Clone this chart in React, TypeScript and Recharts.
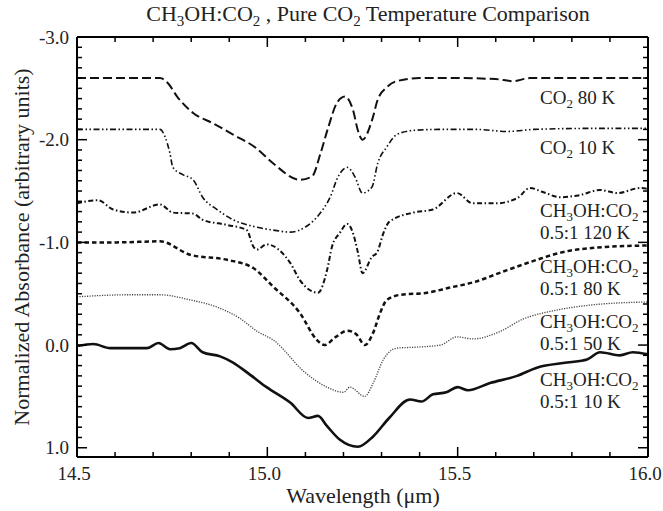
import { LineChart, Line, XAxis, YAxis } from 'recharts';

// wavelength (µm) / normalized absorbance, one pair of arrays per spectrum
const co2_80K_wl = [14.5, 14.6, 14.718, 14.739, 14.763, 14.805, 14.857, 14.91, 14.97, 15.015, 15.086, 15.117, 15.14, 15.16, 15.183, 15.204, 15.225, 15.238, 15.25, 15.275, 15.29, 15.314, 15.34, 15.4, 15.5, 15.6, 15.645, 15.69, 15.8, 16.0];
const co2_80K_abs = [-2.6, -2.6, -2.6, -2.55, -2.42, -2.26, -2.16, -2.05, -1.92, -1.77, -1.61, -1.64, -1.87, -2.12, -2.36, -2.42, -2.29, -2.09, -2.0, -2.19, -2.39, -2.51, -2.57, -2.6, -2.6, -2.59, -2.57, -2.6, -2.6, -2.6];

const co2_10K_wl = [14.5, 14.6, 14.718, 14.731, 14.744, 14.752, 14.778, 14.805, 14.83, 14.868, 14.91, 14.97, 15.015, 15.06, 15.1, 15.14, 15.165, 15.186, 15.21, 15.23, 15.25, 15.275, 15.29, 15.314, 15.34, 15.383, 15.45, 15.55, 15.63, 15.7, 15.85, 16.0];
const co2_10K_abs = [-2.1, -2.1, -2.1, -2.03, -1.87, -1.73, -1.66, -1.61, -1.44, -1.32, -1.22, -1.15, -1.12, -1.1, -1.15, -1.29, -1.44, -1.64, -1.73, -1.64, -1.48, -1.54, -1.77, -1.93, -2.05, -2.09, -2.1, -2.1, -2.08, -2.1, -2.11, -2.11];

const mix120K_wl = [14.5, 14.555, 14.595, 14.647, 14.718, 14.752, 14.805, 14.83, 14.894, 14.946, 14.963, 14.973, 14.998, 15.06, 15.086, 15.133, 15.157, 15.17, 15.19, 15.21, 15.225, 15.238, 15.25, 15.275, 15.288, 15.305, 15.32, 15.383, 15.435, 15.498, 15.54, 15.6, 15.656, 15.69, 15.724, 15.77, 15.82, 15.874, 15.92, 15.98, 16.0];
const mix120K_abs = [-1.38, -1.41, -1.32, -1.29, -1.37, -1.29, -1.28, -1.22, -1.17, -1.12, -0.96, -0.93, -0.98, -0.8, -0.63, -0.51, -0.73, -0.96, -1.09, -1.18, -1.09, -0.9, -0.7, -0.86, -0.9, -1.09, -1.2, -1.29, -1.32, -1.48, -1.38, -1.38, -1.43, -1.53, -1.49, -1.44, -1.46, -1.51, -1.48, -1.53, -1.52];

const mix80K_wl = [14.5, 14.6, 14.718, 14.797, 14.894, 14.963, 15.015, 15.086, 15.13, 15.15, 15.18, 15.21, 15.235, 15.256, 15.278, 15.296, 15.314, 15.35, 15.42, 15.48, 15.54, 15.63, 15.708, 15.77, 15.866, 16.0];
const mix80K_abs = [-1.0, -1.0, -1.01, -0.88, -0.83, -0.75, -0.57, -0.31, -0.05, 0.0, -0.08, -0.14, -0.1, 0.0, -0.12, -0.31, -0.44, -0.49, -0.51, -0.56, -0.61, -0.73, -0.83, -0.9, -0.95, -0.97];

const mix50K_wl = [14.5, 14.64, 14.718, 14.797, 14.868, 14.928, 14.975, 15.015, 15.1, 15.157, 15.2, 15.217, 15.256, 15.278, 15.305, 15.34, 15.393, 15.455, 15.498, 15.54, 15.61, 15.67, 15.76, 15.85, 16.0];
const mix50K_abs = [-0.47, -0.49, -0.49, -0.44, -0.37, -0.26, -0.13, -0.05, 0.27, 0.41, 0.46, 0.41, 0.5, 0.37, 0.14, 0.03, 0.02, 0.0, -0.08, -0.06, -0.13, -0.25, -0.34, -0.39, -0.42];

const mix10K_wl = [14.5, 14.543, 14.587, 14.684, 14.714, 14.744, 14.77, 14.8, 14.83, 14.876, 14.91, 14.955, 14.998, 15.06, 15.107, 15.133, 15.157, 15.19, 15.238, 15.278, 15.32, 15.375, 15.405, 15.435, 15.47, 15.5, 15.527, 15.585, 15.656, 15.708, 15.787, 15.84, 15.874, 15.926, 15.96, 16.0];
const mix10K_abs = [0.01, -0.01, 0.03, 0.03, -0.02, 0.04, 0.03, -0.02, 0.07, 0.11, 0.17, 0.29, 0.41, 0.56, 0.71, 0.69, 0.79, 0.92, 0.99, 0.89, 0.71, 0.53, 0.55, 0.48, 0.46, 0.41, 0.44, 0.37, 0.3, 0.22, 0.17, 0.14, 0.07, 0.1, 0.07, 0.09];

const xMajorTicks = [14.5, 15.0, 15.5, 16.0];
const yMajorTicks = [-3.0, -2.0, -1.0, 0.0, 1.0];

// minor ticks every 0.1
const xTicks = Array.from({ length: 16 }, (_, i) => +(14.5 + i * 0.1).toFixed(1));
const yTicks = Array.from({ length: 41 }, (_, i) => +(-3.0 + i * 0.1).toFixed(1));

const toPoints = (wl: number[], abs: number[]) => wl.map((w, i) => ({ wl: w, abs: abs[i] }));

const FONT = 'Liberation Serif, Tinos, DejaVu Serif, serif';
const TEXT = '#222';
const txt = { fontFamily: FONT };

const isMajor = (v: number, majors: number[]) => majors.some((m) => Math.abs(m - v) < 1e-6);

const BottomTick = ({ x, y, payload }: any) => {
  const major = isMajor(payload.value, xMajorTicks);
  return (
    <g>
      <line x1={x} x2={x} y1={y} y2={y - (major ? 10 : 5)} stroke="#000" strokeWidth={1.5} />
      {major && (
        <text x={x - 3} y={y + 23} textAnchor="middle" fontSize={19} style={txt} fill={TEXT}>
          {payload.value.toFixed(1)}
        </text>
      )}
    </g>
  );
};

const TopTick = ({ x, y, payload }: any) => {
  const major = isMajor(payload.value, xMajorTicks);
  return <line x1={x} x2={x} y1={y} y2={y + (major ? 10 : 5)} stroke="#000" strokeWidth={1.5} />;
};

const LeftTick = ({ x, y, payload }: any) => {
  const major = isMajor(payload.value, yMajorTicks);
  return (
    <g>
      <line x1={x} x2={x + (major ? 10 : 5)} y1={y} y2={y} stroke="#000" strokeWidth={1.5} />
      {major && (
        <text x={x - 8} y={y + 6.5} textAnchor="end" fontSize={19} style={txt} fill={TEXT}>
          {payload.value.toFixed(1)}
        </text>
      )}
    </g>
  );
};

const RightTick = ({ x, y, payload }: any) => {
  const major = isMajor(payload.value, yMajorTicks);
  return <line x1={x} x2={x - (major ? 10 : 5)} y1={y} y2={y} stroke="#000" strokeWidth={1.5} />;
};

// chemical formula with subscripts
const Mix = () => (
  <>
    CH<tspan dy={4} fontSize={13}>3</tspan>
    <tspan dy={-4}>OH:CO</tspan>
    <tspan dy={4} fontSize={13}>2</tspan>
    <tspan dy={-4}></tspan>
  </>
);

const SeriesLabel = ({ y, first, second }: { y: number; first: React.ReactNode; second?: string }) => (
  <g>
    <text x={540} y={y} fontSize={19} style={txt} fill={TEXT}>
      {first}
    </text>
    {second && (
      <text x={540} y={y + 22} fontSize={19} style={txt} fill={TEXT}>
        {second}
      </text>
    )}
  </g>
);

export default function App() {
  const axisLine = { stroke: '#000', strokeWidth: 2 };
  return (
    <div style={{ position: 'absolute', left: 0, top: 0, width: 663, height: 511, background: '#fff' }}>
      <LineChart width={663} height={511} margin={{ top: 36, right: 14, bottom: 24, left: 17 }}>
        <XAxis
          xAxisId="bottom"
          type="number"
          dataKey="wl"
          domain={[14.5, 16.0]}
          ticks={xTicks}
          interval={0}
          tick={<BottomTick />}
          tickSize={0}
          tickMargin={0}
          tickLine={false}
          axisLine={axisLine}
          height={30}
          allowDataOverflow
        />
        <XAxis
          xAxisId="top"
          orientation="top"
          type="number"
          dataKey="wl"
          domain={[14.5, 16.0]}
          ticks={xTicks}
          interval={0}
          tick={<TopTick />}
          tickSize={0}
          tickMargin={0}
          tickLine={false}
          axisLine={axisLine}
          height={1}
          allowDataOverflow
        />
        <YAxis
          yAxisId="left"
          type="number"
          domain={[-3.0, 1.09]}
          reversed
          ticks={yTicks}
          interval={0}
          tick={<LeftTick />}
          tickSize={0}
          tickMargin={0}
          tickLine={false}
          axisLine={axisLine}
          width={60}
          allowDataOverflow
        />
        <YAxis
          yAxisId="right"
          orientation="right"
          type="number"
          domain={[-3.0, 1.09]}
          reversed
          ticks={yTicks}
          interval={0}
          tick={<RightTick />}
          tickSize={0}
          tickMargin={0}
          tickLine={false}
          axisLine={axisLine}
          width={1}
          allowDataOverflow
        />
        <Line xAxisId="bottom" yAxisId="left" data={toPoints(co2_80K_wl, co2_80K_abs)} dataKey="abs" type="monotone"
          stroke="#111" strokeWidth={2} strokeDasharray="9 4" dot={false} isAnimationActive={false} />
        <Line xAxisId="bottom" yAxisId="left" data={toPoints(co2_10K_wl, co2_10K_abs)} dataKey="abs" type="monotone"
          stroke="#111" strokeWidth={1.6} strokeDasharray="6 2.5 1.5 2.5 1.5 2.5" dot={false} isAnimationActive={false} />
        <Line xAxisId="bottom" yAxisId="left" data={toPoints(mix120K_wl, mix120K_abs)} dataKey="abs" type="monotone"
          stroke="#111" strokeWidth={2} strokeDasharray="5 2.5 1.5 2.5" dot={false} isAnimationActive={false} />
        <Line xAxisId="bottom" yAxisId="left" data={toPoints(mix80K_wl, mix80K_abs)} dataKey="abs" type="monotone"
          stroke="#111" strokeWidth={2.5} strokeDasharray="4.5 3" dot={false} isAnimationActive={false} />
        <Line xAxisId="bottom" yAxisId="left" data={toPoints(mix50K_wl, mix50K_abs)} dataKey="abs" type="monotone"
          stroke="#444" strokeWidth={1.3} strokeDasharray="1.2 1.3" dot={false} isAnimationActive={false} />
        <Line xAxisId="bottom" yAxisId="left" data={toPoints(mix10K_wl, mix10K_abs)} dataKey="abs" type="monotone"
          stroke="#111" strokeWidth={2.6} dot={false} isAnimationActive={false} />
      </LineChart>

      <svg width={663} height={511} style={{ position: 'absolute', left: 0, top: 0, pointerEvents: 'none' }}>
        <text x={368} y={21} textAnchor="middle" fontSize={22} style={txt} fill={TEXT}>
          CH<tspan dy={5} fontSize={15}>3</tspan>
          <tspan dy={-5}>OH:CO</tspan>
          <tspan dy={5} fontSize={15}>2</tspan>
          <tspan dy={-5}> , Pure CO</tspan>
          <tspan dy={5} fontSize={15}>2</tspan>
          <tspan dy={-5}> Temperature Comparison</tspan>
        </text>
        <text x={363} y={503} textAnchor="middle" fontSize={22} style={txt} fill={TEXT}>
          Wavelength (μm)
        </text>
        <text transform="translate(29,247) rotate(-90)" textAnchor="middle" fontSize={22} style={txt} fill={TEXT}>
          Normalized Absorbance (arbitrary units)
        </text>

        <SeriesLabel y={104} first={<>CO<tspan dy={4} fontSize={13}>2</tspan><tspan dy={-4}> 80 K</tspan></>} />
        <SeriesLabel y={154} first={<>CO<tspan dy={4} fontSize={13}>2</tspan><tspan dy={-4}> 10 K</tspan></>} />
        <SeriesLabel y={217} first={<Mix />} second="0.5:1 120 K" />
        <SeriesLabel y={273} first={<Mix />} second="0.5:1 80 K" />
        <SeriesLabel y={328} first={<Mix />} second="0.5:1 50 K" />
        <SeriesLabel y={386} first={<Mix />} second="0.5:1 10 K" />
      </svg>
    </div>
  );
}
